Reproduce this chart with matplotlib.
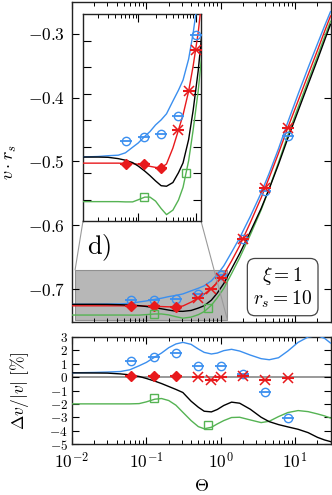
import matplotlib
matplotlib.use("Agg")
import matplotlib.pyplot as plt
from matplotlib.patches import Rectangle, ConnectionPatch
from matplotlib.ticker import FixedLocator, NullFormatter, LogLocator

plt.rcParams['mathtext.fontset'] = 'cm'
plt.rcParams['font.family'] = ['DejaVu Serif']

# ---------------- data ----------------
theta_grid = [0.01, 0.02, 0.03, 0.045, 0.06, 0.08, 0.1, 0.13, 0.16, 0.2, 0.25, 0.31, 0.4, 0.5, 0.6,
              0.75, 0.9, 1.1, 1.4, 1.8, 2.5, 3.5, 4.5, 6, 8, 11, 15, 20, 25, 30]

v_red = [-0.7262, -0.7262, -0.7262, -0.7262, -0.7263, -0.7264, -0.7266, -0.7270, -0.7274, -0.7278,
         -0.7280, -0.7265, -0.7205, -0.7137, -0.7080, -0.6991, -0.6895, -0.6770, -0.6560, -0.6320,
         -0.5960, -0.5570, -0.5250, -0.4870, -0.4470, -0.4050, -0.3640, -0.3260, -0.2960, -0.2720]
v_blue = [-0.7239, -0.7237, -0.7234, -0.7232, -0.7223, -0.7202, -0.7186, -0.7161, -0.7143, -0.7118,
          -0.7099, -0.7076, -0.7028, -0.6987, -0.6949, -0.6870, -0.6771, -0.6636, -0.6424, -0.6197,
          -0.5862, -0.5493, -0.5182, -0.4799, -0.4383, -0.3945, -0.3531, -0.3159, -0.2874, -0.2651]
v_black = [-0.7239, -0.7239, -0.7240, -0.7245, -0.7251, -0.7260, -0.7273, -0.7292, -0.7309, -0.7329,
           -0.7347, -0.7349, -0.7335, -0.7298, -0.7261, -0.7173, -0.7062, -0.6914, -0.6683, -0.6443,
           -0.6103, -0.5737, -0.5425, -0.5043, -0.4636, -0.4208, -0.3791, -0.3407, -0.3099, -0.2851]
v_green = [-0.7407, -0.7407, -0.7407, -0.7407, -0.7408, -0.7408, -0.7400, -0.7390, -0.7390, -0.7405,
           -0.7433, -0.7456, -0.7439, -0.7401, -0.7353, -0.7253, -0.7136, -0.6990, -0.6758, -0.6510,
           -0.6151, -0.5759, -0.5423, -0.5014, -0.4588, -0.4151, -0.3734, -0.3350, -0.3046, -0.2803]

dev_blue = [0.32, 0.35, 0.38, 0.42, 0.55, 0.85, 1.1, 1.5, 1.8, 2.2, 2.48, 2.6, 2.45, 2.1, 1.85,
            1.73, 1.8, 1.98, 2.08, 1.95, 1.65, 1.38, 1.3, 1.45, 1.95, 2.6, 3.0, 3.1, 2.9, 2.55]
dev_black = [0.32, 0.31, 0.3, 0.24, 0.17, 0.05, -0.1, -0.3, -0.48, -0.7, -0.92, -1.15, -1.8, -2.25, -2.55,
             -2.6, -2.42, -2.12, -1.87, -1.95, -2.4, -3.0, -3.33, -3.55, -3.72, -3.9, -4.15, -4.5, -4.7, -4.82]
dev_green = [-2.0, -2.0, -2.0, -2.0, -2.0, -1.98, -1.85, -1.65, -1.6, -1.75, -2.1, -2.63, -3.25, -3.7, -3.86,
             -3.75, -3.5, -3.25, -3.02, -3.0, -3.2, -3.4, -3.3, -2.95, -2.65, -2.5, -2.58, -2.75, -2.9, -3.06]

# markers (main + inset)
th_blue_pts = [0.0625, 0.125, 0.25, 0.5, 1, 2, 4, 8]
v_blue_pts = [-0.7178, -0.7165, -0.7152, -0.7083, -0.6778, -0.6208, -0.5468, -0.4600]
th_red_dia = [0.0625, 0.125, 0.25]
v_red_dia = [-0.7265, -0.7265, -0.7280]
th_red_x = [0.5, 0.75, 1, 2, 4, 8]
v_red_x = [-0.7137, -0.6991, -0.6834, -0.6220, -0.5410, -0.4470]
th_green_pts = [0.125, 0.667]
v_green_pts = [-0.7391, -0.7300]

# markers (deviation panel)
dev_blue_pts = [1.2, 1.48, 1.78, 0.8, 0.83, 0.2, -1.1, -3.05]
dev_red_dia = [0.05, 0.1, 0.05]
dev_red_x = [0.0, -0.2, 0.0, 0.1, -0.2, -0.1]
dev_green_pts = [-1.55, -3.58]

main_yticks = [-0.7, -0.6, -0.5, -0.4, -0.3]
dev_yticks = [-5, -4, -3, -2, -1, 0, 1, 2, 3]
x_ticks = [1e-2, 1e-1, 1e0, 1e1]
x_ticklabels = [r'$10^{-2}$', r'$10^{-1}$', r'$10^{0}$', r'$10^{1}$']

BLUE = '#3b8fef'
RED = '#e8191c'
GREEN = '#55b353'
BLACK = 'black'

W, H = 332, 495
fig = plt.figure(figsize=(W / 100, H / 100), dpi=100)

def fx(px):
    return px / W

def fy(py):
    return 1 - py / H

ax = fig.add_axes([fx(72), fy(322), fx(330.5) - fx(72), fy(2) - fy(322)])
axd = fig.add_axes([fx(72), fy(444), fx(330.5) - fx(72), fy(337) - fy(444)])
axi = fig.add_axes([fx(83), fy(221), fx(201) - fx(83), fy(14) - fy(221)])

lw = 1.0

def draw_markers(a, tb, vb, td, vd, tx, vx, tg, vg):
    a.plot(tb, vb, ls='none', marker='o', ms=6, mfc='none', mec=BLUE, mew=1.0, zorder=5)
    a.plot(tb, vb, ls='none', marker='_', ms=9, mec=BLUE, mew=1.3, zorder=5)
    a.plot(td, vd, ls='none', marker='D', ms=5.5, mfc=RED, mec=RED, zorder=5)
    a.plot(td, vd, ls='none', marker='_', ms=9, mec=RED, mew=1.5, zorder=5)
    a.plot(tx, vx, ls='none', marker='x', ms=7, mec=RED, mew=1.1, zorder=5)
    a.plot(tx, vx, ls='none', marker='_', ms=9, mec=RED, mew=1.5, zorder=5)
    a.plot(tg, vg, ls='none', marker='s', ms=6, mfc='none', mec=GREEN, mew=1.0, zorder=5)

def style_axis(a, xlim, ylim):
    a.set_xscale('log')
    a.set_xlim(*xlim)
    a.set_ylim(*ylim)
    a.tick_params(which='both', direction='in', top=True, right=True)
    a.tick_params(which='major', length=5, width=0.8)
    a.tick_params(which='minor', length=2.8, width=0.7)
    a.xaxis.set_minor_locator(LogLocator(base=10, subs=range(2, 10), numticks=20))
    a.xaxis.set_minor_formatter(NullFormatter())
    for s in a.spines.values():
        s.set_linewidth(1.0)
        s.set_color('#222222')

# ---- main panel ----
for a in (ax, axi):
    a.plot(theta_grid, v_blue, color=BLUE, lw=lw, zorder=3)
    a.plot(theta_grid, v_red, color=RED, lw=lw, zorder=3)
    a.plot(theta_grid, v_green, color=GREEN, lw=lw, zorder=3)
    a.plot(theta_grid, v_black, color=BLACK, lw=lw, zorder=3)
    draw_markers(a, th_blue_pts, v_blue_pts, th_red_dia, v_red_dia, th_red_x, v_red_x,
                 th_green_pts, v_green_pts)

style_axis(ax, (1e-2, 30), (-0.7516, -0.25))
ax.xaxis.set_major_locator(FixedLocator(x_ticks))
ax.set_xticklabels([])
ax.yaxis.set_major_locator(FixedLocator(main_yticks))
ax.set_yticklabels([r'$%g$' % t for t in main_yticks], fontsize=12.5)
ax.tick_params(axis='y', pad=5)
ax.set_ylabel(r'$v\cdot r_s$', fontsize=13)
ax.yaxis.set_label_coords(-0.205, 0.5)

# zoom rectangle
rx0, rx1 = 0.011, 1.23
ry0, ry1 = -0.748, -0.670
rect = Rectangle((rx0, ry0), rx1 - rx0, ry1 - ry0, facecolor='#b3b3b3', edgecolor='#8c8c8c',
                 lw=0.8, alpha=0.95, zorder=1)
ax.add_patch(rect)

ax.text(0.105, 0.232, r'$\mathrm{d)}$', transform=ax.transAxes, fontsize=19,
        ha='center', va='center')
ax.text(0.815, 0.108, '$\\xi = 1$\n$r_s = 10$', transform=ax.transAxes, fontsize=14,
        ha='center', va='center', linespacing=1.1,
        bbox=dict(boxstyle='round,pad=0.3,rounding_size=0.4', fc='white', ec='#444444', lw=0.9))

# ---- inset ----
style_axis(axi, (rx0, rx1), (ry0, ry1))
axi.xaxis.set_major_locator(FixedLocator([1e-1, 1e0]))
axi.set_xticklabels([])
axi.yaxis.set_major_locator(FixedLocator([-0.74, -0.73, -0.72, -0.71, -0.70, -0.69, -0.68]))
axi.set_yticklabels([])
axi.tick_params(which='major', length=6)
axi.set_zorder(4)
axi.patch.set_facecolor('white')

for (xa, ya), (xb, yb) in [((0, 0), (rx0, ry1)), ((1, 0), (rx1, ry0))]:
    cp = ConnectionPatch(xyA=(xa, ya), coordsA=axi.transAxes, xyB=(xb, yb), coordsB=ax.transData,
                         color='#9a9a9a', lw=0.8, zorder=2)
    fig.add_artist(cp)

# ---- deviation panel ----
axd.axhline(0, color='#999999', lw=1.4, zorder=1)
axd.plot(theta_grid, dev_blue, color=BLUE, lw=lw, zorder=3)
axd.plot(theta_grid, dev_green, color=GREEN, lw=lw, zorder=3)
axd.plot(theta_grid, dev_black, color=BLACK, lw=lw, zorder=3)
draw_markers(axd, th_blue_pts, dev_blue_pts, th_red_dia, dev_red_dia, th_red_x, dev_red_x,
             th_green_pts, dev_green_pts)
style_axis(axd, (1e-2, 30), (-5, 3))
axd.xaxis.set_major_locator(FixedLocator(x_ticks))
axd.set_xticklabels(x_ticklabels, fontsize=12.5)
axd.tick_params(axis='x', pad=6)
axd.yaxis.set_major_locator(FixedLocator(dev_yticks))
axd.set_yticklabels([r'$%d$' % t for t in dev_yticks], fontsize=9.5)
axd.tick_params(axis='y', pad=3)
axd.set_ylabel(r'$\Delta v/|v|\ [\%]$', fontsize=12.5)
axd.yaxis.set_label_coords(-0.16, 0.5)
axd.set_xlabel(r'$\Theta$', fontsize=13)
axd.xaxis.set_label_coords(0.5, -0.31)

fig.savefig('out.png', dpi=100)
